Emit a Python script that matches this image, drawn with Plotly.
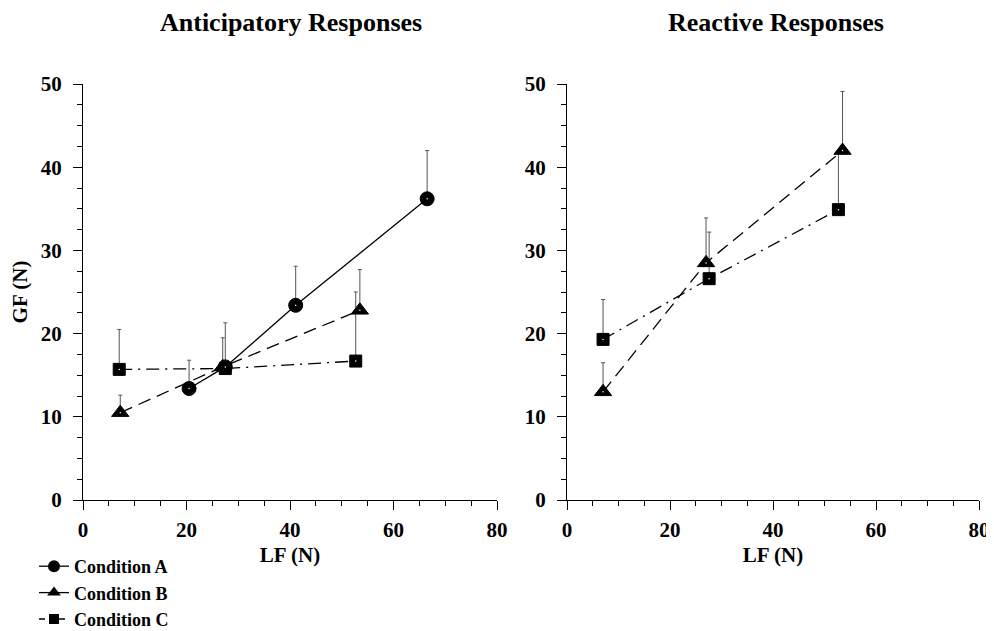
import plotly.graph_objects as go

# ---- data ----
ant_A_lf = [20.5, 27.5, 41.1, 66.5]
ant_A_gf = [13.4, 16.0, 23.4, 36.2]
ant_A_err = [3.4, 5.3, 4.7, 5.8]

ant_B_lf = [7.2, 27.0, 53.5]
ant_B_gf = [10.5, 16.0, 22.8]
ant_B_err = [2.1, 3.5, 4.9]

ant_C_lf = [7.0, 27.5, 52.7]
ant_C_gf = [15.7, 15.8, 16.7]
ant_C_err = [4.8, 0.0, 8.3]

rea_B_lf = [7.0, 27.0, 53.5]
rea_B_gf = [13.0, 28.5, 42.0]
rea_B_err = [3.5, 5.4, 7.1]

rea_C_lf = [7.0, 27.6, 52.7]
rea_C_gf = [19.3, 26.6, 34.9]
rea_C_err = [4.8, 5.6, 7.0]

series_names = ["Condition A", "Condition B", "Condition C"]
panel_titles = ["Anticipatory Responses", "Reactive Responses"]
x_ticks = [0, 20, 40, 60, 80]
y_ticks = [0, 10, 20, 30, 40, 50]

FONT = "Liberation Serif"
ERRC = "#555555"
dashB = "13px,7px"
dashC = "13px,6px,2px,6px"

fig = go.Figure()


def add_series(x, y, err, name, symbol, dash, xa, ya, size):
    fig.add_trace(go.Scatter(
        x=x, y=y, name=name, mode="lines+markers", xaxis=xa, yaxis=ya,
        showlegend=False,
        line=dict(color="black", width=1.3, dash=dash),
        marker=dict(symbol=symbol, size=size, color="black",
                    line=dict(color="black", width=1)),
        error_y=dict(type="data", symmetric=False, array=err,
                     arrayminus=[0] * len(err), color=ERRC,
                     thickness=1, width=2),
    ))
    fig.add_trace(go.Scatter(
        x=x, y=y, mode="markers", xaxis=xa, yaxis=ya, showlegend=False,
        hoverinfo="skip",
        marker=dict(symbol="circle", size=1.5, color="white"),
    ))


add_series(ant_C_lf, ant_C_gf, ant_C_err, series_names[2], "square", dashC, "x", "y", 12)
add_series(ant_B_lf, ant_B_gf, ant_B_err, series_names[1], "triangle-up", dashB, "x", "y", 15)
add_series(ant_A_lf, ant_A_gf, ant_A_err, series_names[0], "circle", "solid", "x", "y", 14)
add_series(rea_C_lf, rea_C_gf, rea_C_err, series_names[2], "square", dashC, "x2", "y2", 12)
add_series(rea_B_lf, rea_B_gf, rea_B_err, series_names[1], "triangle-up", dashB, "x2", "y2", 15)

# legend entries
for nm, sym, dash, sz in [(series_names[0], "circle", "solid", 12),
                          (series_names[1], "triangle-up", "solid", 12),
                          (series_names[2], "square", "6px,4px", 10)]:
    fig.add_trace(go.Scatter(x=[None], y=[None], name=nm, mode="lines+markers",
                             line=dict(color="black", width=1.3, dash=dash),
                             marker=dict(symbol=sym, size=sz, color="black"),
                             xaxis="x", yaxis="y"))

# page has an 8px body margin: figure coordinates = page pixels - 8
W, H = 986, 623
OFF = 8
yb, yt = 1 - (500 - OFF) / H, 1 - (84 - OFF) / H

tickf = dict(family=FONT, size=21, color="black", weight="bold")
titf = dict(family=FONT, size=21, color="black", weight="bold")

xcommon = dict(range=[0, 80], tickvals=x_ticks, ticks="outside", ticklen=9,
               tickwidth=1, tickcolor="black", showline=True, linecolor="black",
               linewidth=1, showgrid=False, zeroline=False, automargin=False,
               ticklabelstandoff=2,
               minor=dict(dtick=5, ticks="outside", ticklen=5, tickcolor="black", showgrid=False),
               tickfont=tickf,
               title=dict(text="LF (N)", font=titf, standoff=6))
ycommon = dict(range=[0, 50], tickvals=y_ticks, ticks="outside", ticklen=9,
               tickwidth=1, tickcolor="black", showline=True, linecolor="black",
               linewidth=1, showgrid=False, zeroline=False, automargin=False,
               ticklabelstandoff=7,
               minor=dict(dtick=2.5, ticks="outside", ticklen=5, tickcolor="black", showgrid=False),
               tickfont=tickf)

fig.update_layout(
    width=W, height=H,
    margin=dict(l=0, r=0, t=0, b=0, autoexpand=False),
    paper_bgcolor="white", plot_bgcolor="white",
    font=dict(family=FONT, color="black"),
    xaxis=dict(domain=[(83 - OFF) / W, (497 - OFF) / W], anchor="y", **xcommon),
    yaxis=dict(domain=[yb, yt], anchor="x",
               title=dict(text="GF (N)", font=titf, standoff=12),
               **ycommon),
    xaxis2=dict(domain=[(567 - OFF) / W, (979 - OFF) / W], anchor="y2", **xcommon),
    yaxis2=dict(domain=[yb, yt], anchor="x2", **ycommon),
    legend=dict(x=(34 - OFF) / W, y=1 - (548 - OFF) / H, xanchor="left", yanchor="top",
                bgcolor="rgba(0,0,0,0)", itemwidth=30, tracegroupgap=0,
                traceorder="normal",
                font=dict(family=FONT, size=18, color="black", weight="bold")),
    showlegend=True,
)

fig.add_annotation(text=panel_titles[0], x=(291 - OFF) / W, y=1 - (22 - OFF) / H,
                   xref="paper", yref="paper", showarrow=False,
                   xanchor="center", yanchor="middle",
                   font=dict(family=FONT, size=26, color="black", weight="bold"))
fig.add_annotation(text=panel_titles[1], x=(776 - OFF) / W, y=1 - (22 - OFF) / H,
                   xref="paper", yref="paper", showarrow=False,
                   xanchor="center", yanchor="middle",
                   font=dict(family=FONT, size=26, color="black", weight="bold"))

fig.write_html("out.html")
